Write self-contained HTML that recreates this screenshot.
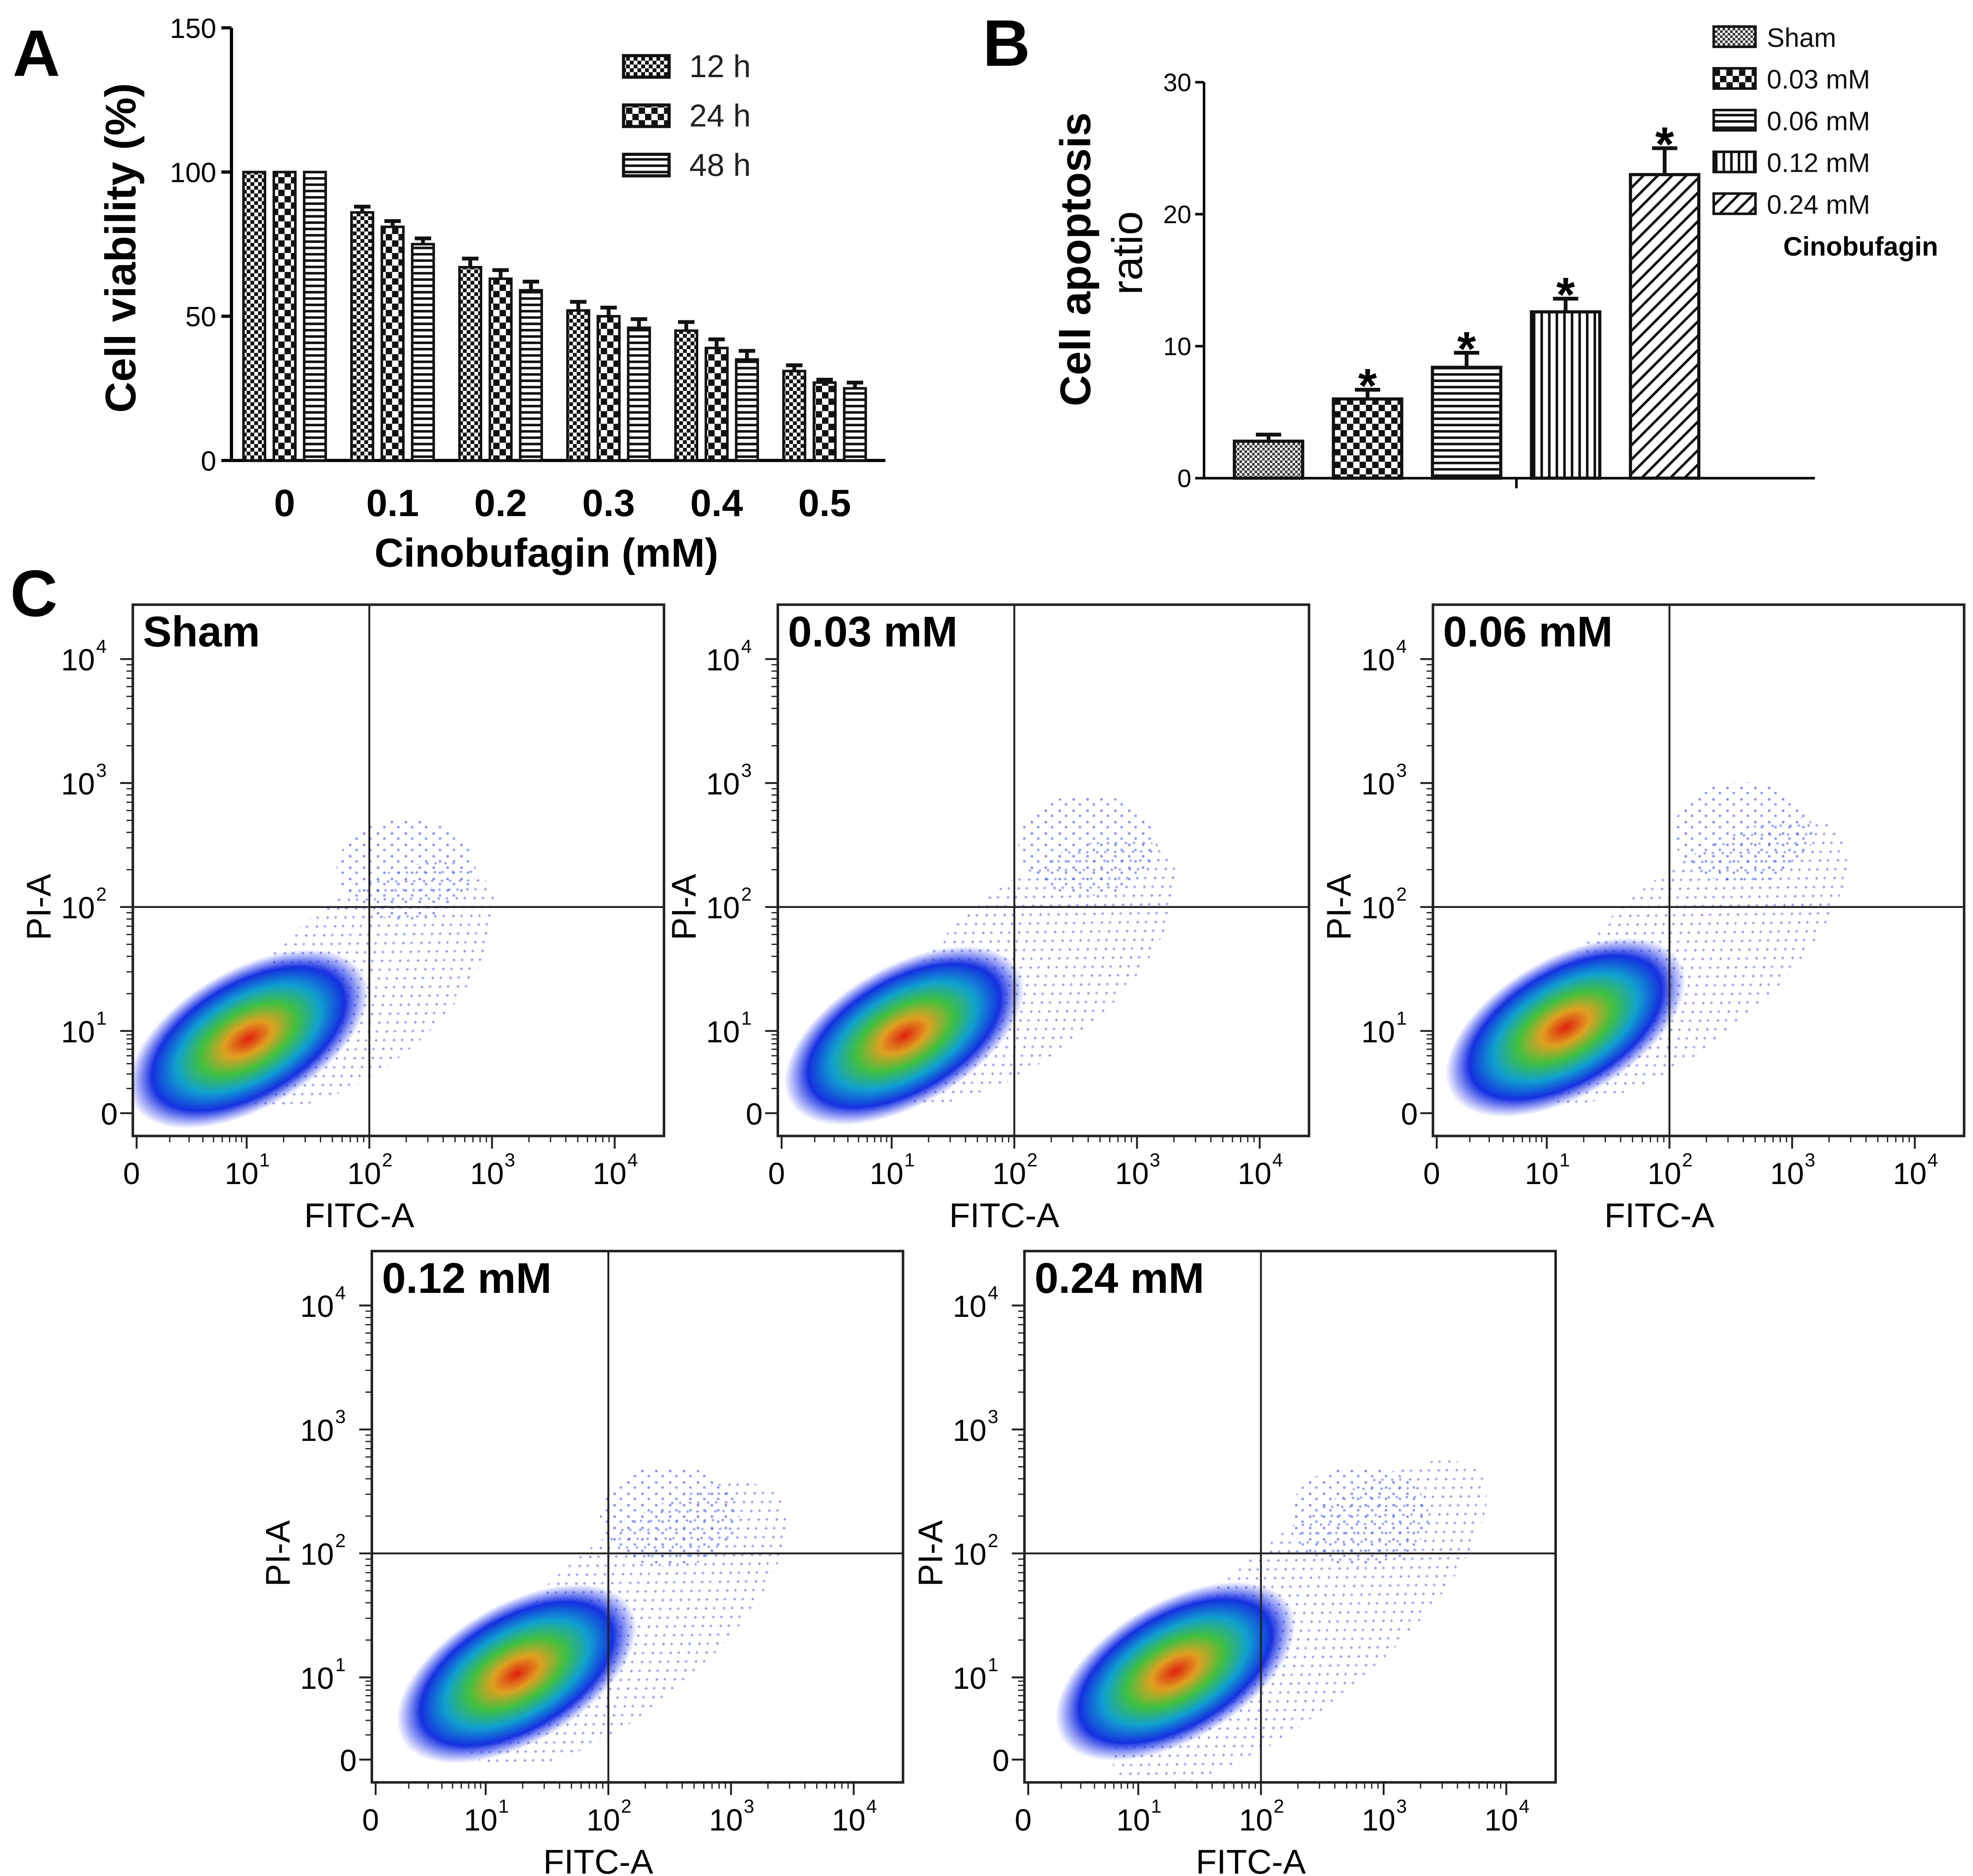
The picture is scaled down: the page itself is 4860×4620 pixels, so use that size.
<!DOCTYPE html>
<html><head><meta charset="utf-8">
<style>
html,body{margin:0;padding:0;background:#fff;}
svg{display:block;font-family:"Liberation Sans",Arial,sans-serif;}
</style></head>
<body>
<svg id="fig" width="4860" height="4620" viewBox="0 0 1560 1483" xmlns="http://www.w3.org/2000/svg">
<defs>
<pattern id="p12" width="6" height="6" patternUnits="userSpaceOnUse"><rect width="6" height="6" fill="#fff"/><rect width="3" height="3" fill="#111"/><rect x="3" y="3" width="3" height="3" fill="#111"/></pattern>
<pattern id="p24" width="10" height="10" patternUnits="userSpaceOnUse"><rect width="10" height="10" fill="#fff"/><rect width="5" height="5" fill="#111"/><rect x="5" y="5" width="5" height="5" fill="#111"/></pattern>
<pattern id="p48" width="6" height="5" patternUnits="userSpaceOnUse"><rect width="6" height="5" fill="#fff"/><rect y="0" width="6" height="2" fill="#111"/></pattern>
<pattern id="pv" width="6" height="6" patternUnits="userSpaceOnUse"><rect width="6" height="6" fill="#fff"/><rect width="2" height="6" fill="#111"/></pattern>
<pattern id="pd" width="8" height="8" patternUnits="userSpaceOnUse" patternTransform="rotate(45)"><rect width="8" height="8" fill="#fff"/><rect width="2" height="8" fill="#111"/></pattern>
<pattern id="psh" width="4" height="4" patternUnits="userSpaceOnUse"><rect width="4" height="4" fill="#fff"/><rect width="2" height="2" fill="#333"/><rect x="2" y="2" width="2" height="2" fill="#333"/></pattern>
<pattern id="dots" width="11" height="9" patternUnits="userSpaceOnUse"><rect x="1" y="1" width="1.8" height="1.8" fill="#1a2ee0"/><rect x="6" y="5" width="1.8" height="1.8" fill="#2244ff"/></pattern>
<radialGradient id="dens">
<stop offset="0" stop-color="#e02010"/><stop offset="0.2" stop-color="#e0a020"/><stop offset="0.4" stop-color="#40c040"/><stop offset="0.6" stop-color="#10a0d0"/><stop offset="0.8" stop-color="#1530e0"/><stop offset="1" stop-color="#2030f0" stop-opacity="0"/>
</radialGradient>
</defs>
<g id="root"></g>
</svg>
<script>
// ---- Panel A data ----
const aCats = ["0","0.1","0.2","0.3","0.4","0.5"];
const aSeriesNames = ["12 h","24 h","48 h"];
const a12 = [100,86,67,52,45,31];
const a24 = [100,81,63,50,39,27];
const a48 = [100,75,59,46,35,25];
const aErr12 = [0,2,3,3,3,2];
const aErr24 = [0,2,3,3,3,1];
const aErr48 = [0,2,3,3,3,2];
const aTicks = [0,50,100,150];
// ---- Panel B data ----
const bCats = ["Sham","0.03 mM","0.06 mM","0.12 mM","0.24 mM"];
const bVals = [2.8,6.0,8.4,12.6,23.0];
const bErr = [0.5,0.7,1.1,1.0,2.0];
const bSig = [false,true,true,true,true];
const bTicks = [0,10,20,30];
// ---- Panel C data (decades: log positions of cluster centers) ----
const cTitles = ["Sham","0.03 mM","0.06 mM","0.12 mM","0.24 mM"];
const cMainX = [0.9,1.0,1.05,1.15,1.2];
const cMainY = [0.78,0.82,0.92,0.92,0.95];
const cApoX = [2.3,2.6,2.6,2.5,2.8];
const cApoY = [2.3,2.5,2.6,2.3,2.3];
const cLateSpread = [0.5,0.6,0.7,0.7,0.9];
const cTickLabels = ["0","10","10","10","10"];

const NS="http://www.w3.org/2000/svg";
const root=document.getElementById('root');
function mk(tag,attrs,parent){const e=document.createElementNS(NS,tag);for(const k in attrs)e.setAttribute(k,attrs[k]);(parent||root).appendChild(e);return e;}
function txt(s,attrs,parent){const e=mk('text',attrs,parent);e.textContent=s;return e;}

// ===== Panel A =====
const gA=mk('g',{});


const aY0=364,aYtop=22,aX0=183,aX1=700;
const ay=v=>aY0-(v/150)*(aY0-aYtop);
const aGroupX=[225,307,395,480,565,652];
const ax=i=>aGroupX[0]+i*((aGroupX[5]-aGroupX[0])/5);
let pl=txt('A',{x:10,y:60,'font-size':52,'font-weight':'bold'},gA);

mk('line',{x1:aX0,y1:aYtop,x2:aX0,y2:aY0,stroke:'#000','stroke-width':2.5},gA);
mk('line',{x1:aX0,y1:aY0,x2:aX1,y2:aY0,stroke:'#000','stroke-width':2.5},gA);
aTicks.forEach(t=>{mk('line',{x1:aX0-8,y1:ay(t),x2:aX0,y2:ay(t),stroke:'#000','stroke-width':2.5},gA);
 const l=txt(String(t),{x:aX0-12,y:ay(t)+8,'font-size':22,'text-anchor':'end'},gA);
 });
const aSeries=[a12,a24,a48],aErrs=[aErr12,aErr24,aErr48],aFills=['url(#p12)','url(#p24)','url(#p48)'];
aCats.forEach((c,i)=>{
 const cx=ax(i);
 aSeries.forEach((s,j)=>{
  const bx=cx+(j-1)*24-8.5;
  const r=mk('rect',{x:bx,y:ay(s[i]),width:17,height:aY0-ay(s[i]),fill:aFills[j],stroke:'#111','stroke-width':2},gA);
  
  
  if(aErrs[j][i]>0){const ey=ay(s[i]+aErrs[j][i]);
   mk('line',{x1:bx+8.5,y1:ey,x2:bx+8.5,y2:ay(s[i]),stroke:'#111','stroke-width':3},gA);
   mk('line',{x1:bx+2,y1:ey,x2:bx+15,y2:ey,stroke:'#111','stroke-width':3},gA);}
 });
 const l=txt(c,{x:cx,y:408,'font-size':30,'font-weight':'bold','text-anchor':'middle'},gA);
 
});
let t=txt('Cinobufagin (mM)',{x:432,y:448,'font-size':32,'font-weight':'bold','text-anchor':'middle'},gA);

t=txt('Cell viability (%)',{x:0,y:0,'font-size':34,'font-weight':'bold','text-anchor':'middle',transform:'translate(107,196) rotate(-90)'},gA);

aSeriesNames.forEach((n,j)=>{
 const y=44+j*39;
 const g=mk('g',{},gA);
 
 mk('rect',{x:493,y:y,width:36,height:17,fill:aFills[j],stroke:'#111','stroke-width':2.5},g);
 txt(n,{x:545,y:y+17,'font-size':25,fill:'#222'},g);
});

// ===== Panel B =====
const gB=mk('g',{});

const bY0=378,bYtop=65,bX0=952,bX1=1435;
const by=v=>bY0-(v/30)*(bY0-bYtop);
const bx=i=>1003+i*78.3;
pl=txt('B',{x:777,y:52,'font-size':52,'font-weight':'bold'},gB);

mk('line',{x1:bX0,y1:bYtop,x2:bX0,y2:bY0,stroke:'#000','stroke-width':2},gB);
mk('line',{x1:bX0,y1:bY0,x2:bX1,y2:bY0,stroke:'#000','stroke-width':2},gB);
mk('line',{x1:1199,y1:bY0,x2:1199,y2:bY0+8,stroke:'#000','stroke-width':2},gB);
bTicks.forEach(v=>{mk('line',{x1:bX0-7,y1:by(v),x2:bX0,y2:by(v),stroke:'#000','stroke-width':2},gB);
 const l=txt(String(v),{x:bX0-10,y:by(v)+7,'font-size':20,'text-anchor':'end'},gB);
 });
const bFills=['url(#psh)','url(#p24)','url(#p48)','url(#pv)','url(#pd)'];
bCats.forEach((c,i)=>{
 const x=bx(i)-27;
 const r=mk('rect',{x:x,y:by(bVals[i]),width:54,height:bY0-by(bVals[i]),fill:bFills[i],stroke:'#111','stroke-width':2.5},gB);
 
 const ey=by(bVals[i]+bErr[i]);
 mk('line',{x1:bx(i),y1:ey,x2:bx(i),y2:by(bVals[i]),stroke:'#111','stroke-width':3},gB);
 mk('line',{x1:bx(i)-10,y1:ey,x2:bx(i)+10,y2:ey,stroke:'#111','stroke-width':3},gB);
 if(bSig[i]){const s=txt('*',{x:bx(i),y:ey+10,'font-size':38,'font-weight':'bold','text-anchor':'middle'},gB);
  }
 const g=mk('g',{},gB);
 
 const ly=21+i*33;
 mk('rect',{x:1355,y:ly,width:33,height:16,fill:bFills[i],stroke:'#111','stroke-width':2},g);
 txt(c,{x:1397,y:ly+16,'font-size':21,fill:'#111'},g);
});
t=txt('Cinobufagin',{x:1410,y:202,'font-size':21,'font-weight':'bold'},gB);

t=txt('Cell apoptosis',{x:0,y:0,'font-size':34,'font-weight':'bold','text-anchor':'middle',transform:'translate(862,205) rotate(-90)'},gB);

t=txt('ratio',{x:0,y:0,'font-size':34,'text-anchor':'middle',transform:'translate(903,200) rotate(-90)'},gB);


// ===== Panel C =====
pl=txt('C',{x:8,y:487,'font-size':52,'font-weight':'bold'});

const boxes=[[105,478],[615,478],[1133,478],[294,989],[810,989]];
const W=420,H=420;
function ux(u){return u<1?3+u*87:90+(u-1)*97;}
function uy(u){return u<1?402-u*65:337-(u-1)*98;}
cTitles.forEach((title,k)=>{
 const [L,T]=boxes[k];
 const g=mk('g',{});
 
 
 const clipId='clip'+k;
 const cp=mk('clipPath',{id:clipId},g);mk('rect',{x:L,y:T,width:W,height:H},cp);
 const cg=mk('g',{'clip-path':'url(#'+clipId+')'},g);
 const ax_=L+ux(cApoX[k]),ay_=T+uy(cApoY[k]);
 const mx=L+ux(cMainX[k]),my=T+uy(cMainY[k]);
 const ccx=(ax_+mx)/2+30,ccy=(ay_+my)/2+20;
 const ap=mk('ellipse',{cx:ccx,cy:ccy,rx:140*cLateSpread[k]+60,ry:65,fill:'url(#dots)',opacity:0.45,transform:`rotate(-40 ${ccx} ${ccy})`},cg);
 
 const up=mk('ellipse',{cx:ax_,cy:ay_,rx:55,ry:40,fill:'url(#dots)',opacity:0.55},cg);
 
 const dn=mk('ellipse',{cx:mx+10,cy:my-8,rx:105,ry:55,fill:'url(#dens)',transform:`rotate(-30 ${mx+10} ${my-8})`},cg);
 
 mk('line',{x1:L+ux(2),y1:T,x2:L+ux(2),y2:T+H,stroke:'#222','stroke-width':1.5},g);
 mk('line',{x1:L,y1:T+uy(2),x2:L+W,y2:T+uy(2),stroke:'#222','stroke-width':1.5},g);
 mk('rect',{x:L,y:T,width:W,height:H,fill:'none',stroke:'#222','stroke-width':2},g);
 const tl=txt(title,{x:L+8,y:T+33,'font-size':34,'font-weight':'bold'},g);
 
 for(let d=0;d<=4;d++){
  const xx=L+ux(d), yy=T+uy(d);
  mk('line',{x1:xx,y1:T+H,x2:xx,y2:T+H+10,stroke:'#222','stroke-width':1.5},g);
  mk('line',{x1:L-10,y1:yy,x2:L,y2:yy,stroke:'#222','stroke-width':1.5},g);
  const xl=txt(cTickLabels[d],{x:xx-4,y:T+H+38,'font-size':24,'text-anchor':'middle'},g);
  
  const yl=txt(cTickLabels[d],{x:L-(d?30:12),y:yy+9,'font-size':24,'text-anchor':'end'},g);
  
  if(d>0){
   txt(String(d),{x:xx+10,y:T+H+24,'font-size':15},g);
   txt(String(d),{x:L-29,y:yy-5,'font-size':15},g);
  }
  for(let m=2;m<=9&&d<4;m++){
   const f=Math.log10(m);
   const mxp=L+ux(d+f),myp=T+uy(d+f);
   mk('line',{x1:mxp,y1:T+H,x2:mxp,y2:T+H+5,stroke:'#222','stroke-width':1},g);
   mk('line',{x1:L-5,y1:myp,x2:L,y2:myp,stroke:'#222','stroke-width':1},g);
  }
 }
 const xt=txt('FITC-A',{x:L+ux(2)-8,y:T+H+72,'font-size':27,'text-anchor':'middle'},g);
 
 const yt=txt('PI-A',{x:0,y:0,'font-size':27,'text-anchor':'middle',transform:`translate(${L-65},${T+uy(2)}) rotate(-90)`},g);
 
});
</script>
</body></html>
